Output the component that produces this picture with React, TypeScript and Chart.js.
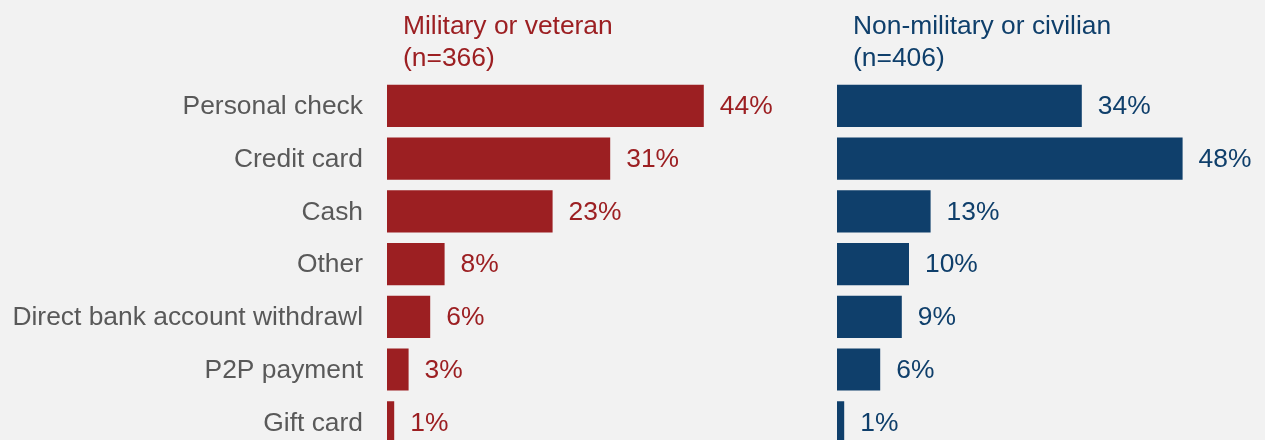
import React, { useEffect, useRef } from "react";
import { Chart, registerables } from "chart.js";

Chart.register(...registerables);

const categories = [
  "Personal check",
  "Credit card",
  "Cash",
  "Other",
  "Direct bank account withdrawl",
  "P2P payment",
  "Gift card",
];
const militaryValues = [44, 31, 23, 8, 6, 3, 1];
const civilianValues = [34, 48, 13, 10, 9, 6, 1];
const militaryTitle = ["Military or veteran", "(n=366)"];
const civilianTitle = ["Non-military or civilian", "(n=406)"];

const RED = "#9c1f22";
const BLUE = "#0f3f6b";
const GRAY = "#595959";
const FONT = "'Liberation Sans', Arial, sans-serif";
const FS = 26.4;
const CANVAS_H = 460;

function makePlugin(showLabels: boolean, color: string, title: string[]) {
  return {
    id: "customText",
    afterDatasetsDraw(chart: any) {
      const ctx = chart.ctx;
      const area = chart.chartArea;
      ctx.save();
      ctx.font = `${FS}px ${FONT}`;
      ctx.fillStyle = color;
      ctx.textAlign = "left";
      ctx.textBaseline = "alphabetic";
      ctx.fillText(title[0], area.left + 16, 34);
      ctx.fillText(title[1], area.left + 16, 66);
      ctx.textBaseline = "middle";
      const meta = chart.getDatasetMeta(0);
      const data = chart.data.datasets[0].data;
      meta.data.forEach((bar: any, i: number) => {
        ctx.fillText(`${data[i]}%`, bar.x + 16, bar.y + 1);
      });
      if (showLabels) {
        const yScale = chart.scales.y;
        ctx.fillStyle = GRAY;
        ctx.textAlign = "right";
        chart.data.labels.forEach((lab: string, i: number) => {
          ctx.fillText(lab, area.left - 24, yScale.getPixelForValue(i) + 1);
        });
      }
      ctx.restore();
    },
  };
}

function BarPanel(props: {
  values: number[];
  color: string;
  title: string[];
  showLabels: boolean;
  left: number;
  width: number;
  padLeft: number;
}) {
  const ref = useRef<HTMLCanvasElement>(null);
  useEffect(() => {
    if (!ref.current) return;
    const plugin = makePlugin(props.showLabels, props.color, props.title);
    const chart = new Chart(ref.current, {
      type: "bar",
      data: {
        labels: categories,
        datasets: [
          {
            data: props.values,
            backgroundColor: props.color,
            borderWidth: 0,
            barPercentage: 0.8,
            categoryPercentage: 1,
          },
        ],
      },
      options: {
        indexAxis: "y",
        responsive: false,
        animation: false,
        layout: {
          padding: {
            top: 79.6,
            bottom: CANVAS_H - 448.6,
            left: props.padLeft,
            right: 0,
          },
        },
        plugins: {
          legend: { display: false },
          tooltip: { enabled: false },
          title: { display: false },
        },
        scales: {
          x: { display: false, min: 0, max: 60 },
          y: { display: false },
        },
      },
      plugins: [plugin],
    } as any);
    return () => chart.destroy();
  }, []);
  return (
    <canvas
      ref={ref}
      width={props.width}
      height={CANVAS_H}
      style={{ position: "absolute", left: props.left, top: 0 }}
    />
  );
}

export default function App() {
  useEffect(() => {
    document.body.style.margin = "0";
    document.body.style.overflow = "hidden";
  }, []);
  return (
    <div
      style={{
        position: "fixed",
        left: 0,
        top: 0,
        width: 1265,
        height: 440,
        overflow: "hidden",
        background: "#f2f2f2",
      }}
    >
      <BarPanel values={militaryValues} color={RED} title={militaryTitle} showLabels={true} left={0} width={819} padLeft={387} />
      <BarPanel values={civilianValues} color={BLUE} title={civilianTitle} showLabels={false} left={819} width={450} padLeft={18} />
    </div>
  );
}
